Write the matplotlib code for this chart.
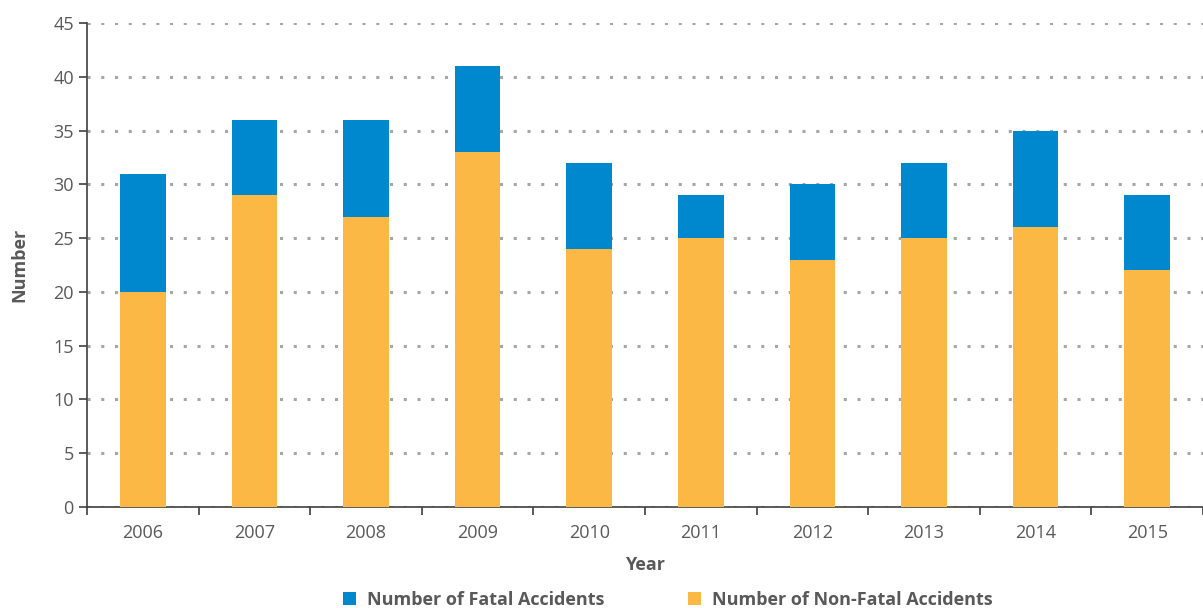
import matplotlib.pyplot as plt
import numpy as np

years = ["2006", "2007", "2008", "2009", "2010", "2011", "2012", "2013", "2014", "2015"]
non_fatal = [20, 29, 27, 33, 24, 25, 23, 25, 26, 22]
fatal = [11, 7, 9, 8, 8, 4, 7, 7, 9, 7]

blue = "#0088CE"
orange = "#FBB845"
grey_text = "#595959"

plt.rcParams['font.family'] = ['Open Sans', 'DejaVu Sans']

fig = plt.figure(figsize=(12.03, 6.08), dpi=100)
ax = fig.add_axes([0.0723, 0.1661, 0.9277, 0.7961])

x = np.arange(len(years))
ax.bar(x, non_fatal, width=0.41, color=orange, zorder=3, label="Number of Non-Fatal Accidents")
ax.bar(x, fatal, width=0.41, bottom=non_fatal, color=blue, zorder=3, label="Number of Fatal Accidents")

ax.set_xlim(-0.5, len(years) - 0.5)
ax.set_ylim(0, 45)
ax.set_yticks(range(0, 46, 5))
ax.set_xticks(x)
ax.set_xticklabels(years)
ax.set_xticks(np.arange(-0.5, len(years), 1), minor=True)
ax.tick_params(axis='x', which='major', length=0, pad=12, labelsize=13, labelcolor=grey_text)
ax.tick_params(axis='x', which='minor', length=6, width=1.2, color="#404040")
ax.tick_params(axis='y', length=6, width=1.2, color="#404040", labelsize=13, labelcolor=grey_text)

ax.yaxis.grid(True, linestyle=(0, (1, 3.5)), linewidth=2.2, color="#A6A6A6", zorder=0)
ax.set_axisbelow(True)

for s in ["top", "right"]:
    ax.spines[s].set_visible(False)
for s in ["left", "bottom"]:
    ax.spines[s].set_color("#404040")
    ax.spines[s].set_linewidth(1.2)

ax.set_xlabel("Year", fontsize=13, fontweight='bold', color=grey_text, labelpad=10)
ax.set_ylabel("Number", fontsize=13, fontweight='bold', color=grey_text, labelpad=18)

handles, labels = ax.get_legend_handles_labels()
leg = fig.legend(handles[::-1], labels[::-1], loc='lower center', bbox_to_anchor=(0.555, -0.028),
                 ncol=2, frameon=False, fontsize=13, handlelength=0.75, handleheight=0.75,
                 columnspacing=4.6, handletextpad=0.6)
for t in leg.get_texts():
    t.set_fontweight('bold')
    t.set_color(grey_text)

fig.savefig("out.png", dpi=100)
